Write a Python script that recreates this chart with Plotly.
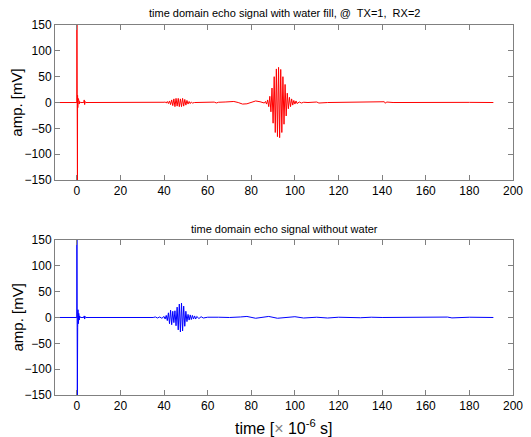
import plotly.graph_objects as go
from plotly.subplots import make_subplots

# ---------------- data (time in microseconds, amplitude in mV) ----------------
# with water fill (TX=1, RX=2)
water_start = [(-10, 0), (0, 0), (0.05, 160), (0.1, -45), (0.15, 12), (0.2, -90), (0.25, 8),
               (0.3, -160), (0.35, 14), (0.45, -10), (0.6, 8), (0.75, -6), (0.9, 5), (1.1, -3),
               (1.3, 2), (1.6, 0), (3.2, 0), (3.4, 5), (3.6, -4), (3.8, 2), (4.1, 0), (35, 0)]
water_echo1 = [(36, 0.5), (37, -0.5), (38, 0.5), (39, -0.5), (40, 0.5), (40.5, 1), (41, -1),
               (41.5, 2), (42, -2), (42.5, 3), (43, -4), (43.5, 5), (44, -6), (44.5, 7), (45, -8),
               (45.5, 8), (46, -7), (46.5, 8), (47, -8), (47.5, 7), (48, -8), (48.5, 8), (49, -7),
               (49.5, 6), (50, -5), (50.5, 4), (51, -3), (51.5, 2), (52, -2), (52.5, 1), (53, -1),
               (54, 0)]
water_slow = [(55, 0), (60, -0.5), (63, 0.8), (64, -0.8), (65, 0.5), (68, 1), (72, 2), (74, 0),
              (76, -3), (78, -2.5), (80, 0.5), (82, 3), (84, 1.5), (86, -1)]
water_main = [(86.5, 2), (87, -3), (87.5, 5), (88, -8), (88.5, 12), (89, -18), (89.5, 28),
              (90, -40), (90.5, 50), (91, -58), (91.5, 65), (92, -66), (92.5, 68), (93, -68),
              (93.5, 64), (94, -58), (94.5, 50), (95, -42), (95.5, 35), (96, -26), (96.5, 18),
              (97, -12), (97.5, 10), (98, -8), (98.5, 7), (99, -5), (99.5, 4), (100, -3),
              (100.5, 3), (101, -2), (102, 1), (103, -1), (104, 0.5), (105, 0)]
water_tail = [(106, 0), (110, 1), (111, -1), (115, 0), (125, 0.5), (130, -0.5), (141, 1.5),
              (141.5, -1.5), (142, 1), (145, 0), (160, 0.5), (162, -0.5), (170, 0), (180, 0.3),
              (191, 0)]

# without water
dry_start = [(-10, 0), (0, 0), (0.05, 160), (0.1, 40), (0.15, -80), (0.2, 48), (0.25, -160),
             (0.3, 30), (0.4, -20), (0.55, 15), (0.7, -12), (0.9, 8), (1.1, -5), (1.3, 3),
             (1.6, 0), (3.2, 0), (3.4, 3), (3.6, -3), (3.8, 2), (4.1, 0), (35, 0)]
dry_echo = [(36, 1), (37, -1), (38, 1), (39, -1.5), (40, 2), (40.5, -3), (41, 4), (41.5, -6),
            (42, 9), (42.5, -12), (43, 14), (43.5, -14), (44, 12), (44.5, -10), (45, 13),
            (45.5, -16), (46, 20), (46.5, -24), (47, 26), (47.5, -28), (48, 28), (48.5, -26),
            (49, 22), (49.5, -17), (50, 12), (50.5, -8), (51, 6), (51.5, -5), (52, 5),
            (52.5, -4), (53, 4), (53.5, -3), (54, 3), (54.5, -3), (55, 2), (56, -2), (57, 1.5),
            (58, -1), (60, 0.5)]
dry_tail = [(65, 0.5), (70, 0), (75, 1), (78, 2), (82, -1.5), (86, 1), (88, 2), (92, -1.5),
            (96, 0), (100, 1.5), (104, -1), (110, 0.5), (115, -1), (120, 0.5), (130, -0.5),
            (135, 0.5), (140, 0), (150, 0), (165, 0), (170, 0.8), (172, -0.8), (175, 0),
            (180, 0.5), (191, 0)]

x_ticks = [0, 20, 40, 60, 80, 100, 120, 140, 160, 180, 200]
y_ticks = [-150, -100, -50, 0, 50, 100, 150]

title_top = "time domain echo signal with water fill, @  TX=1,  RX=2"
title_bottom = "time domain echo signal without water"

# ---------------- build ----------------
water = water_start + water_echo1 + water_slow + water_main + water_tail
dry = dry_start + dry_echo + dry_tail

FONT = "Liberation Sans, Arial, sans-serif"

fig = make_subplots(rows=2, cols=1, vertical_spacing=0.162)
fig.add_trace(go.Scatter(x=[p[0] for p in water], y=[p[1] for p in water], mode="lines",
                         line=dict(color="#ff0000", width=1)), row=1, col=1)
fig.add_trace(go.Scatter(x=[p[0] for p in dry], y=[p[1] for p in dry], mode="lines",
                         line=dict(color="#0000ff", width=1)), row=2, col=1)

axis_common = dict(showgrid=False, zeroline=False, showline=True, linecolor="#808080",
                   linewidth=1, mirror="ticks", ticks="inside", ticklen=5, tickcolor="#808080",
                   ticklabeloverflow="allow",
                   tickfont=dict(family=FONT, size=12, color="#000000"))
for r in (1, 2):
    fig.update_xaxes(range=[-10, 200], tickvals=x_ticks, **axis_common, row=r, col=1)
    fig.update_yaxes(range=[-150, 150], tickvals=y_ticks, **axis_common, row=r, col=1)

# the page body has an 8px margin, so the figure is drawn 8px smaller and offset
fig.update_layout(
    width=523, height=429,
    margin=dict(l=47, r=8, t=17, b=42),
    paper_bgcolor="white", plot_bgcolor="white",
    showlegend=False,
    font=dict(family=FONT, color="#000000"),
    annotations=[
        dict(text=title_top, xref="paper", yref="paper", x=0.5, y=1.0, yshift=12,
             showarrow=False, font=dict(size=11, family=FONT), xanchor="center", yanchor="middle"),
        dict(text=title_bottom, xref="paper", yref="paper", x=0.5, y=0.419, yshift=11,
             showarrow=False, font=dict(size=11, family=FONT), xanchor="center", yanchor="middle"),
        dict(text="amp. [mV]", xref="paper", yref="paper", x=-0.083, y=0.79,
             textangle=-90, showarrow=False, font=dict(size=15, family=FONT),
             xanchor="center", yanchor="middle"),
        dict(text="amp. [mV]", xref="paper", yref="paper", x=-0.083, y=0.2095,
             textangle=-90, showarrow=False, font=dict(size=15, family=FONT),
             xanchor="center", yanchor="middle"),
        dict(text="time [<span style='color:#808080'>×</span> 10<sup>-6</sup> s]",
             xref="paper", yref="paper", x=0.5, y=0, yshift=-32, showarrow=False,
             font=dict(size=16, family=FONT), xanchor="center", yanchor="middle"),
    ],
)

fig.write_html("out.html")
